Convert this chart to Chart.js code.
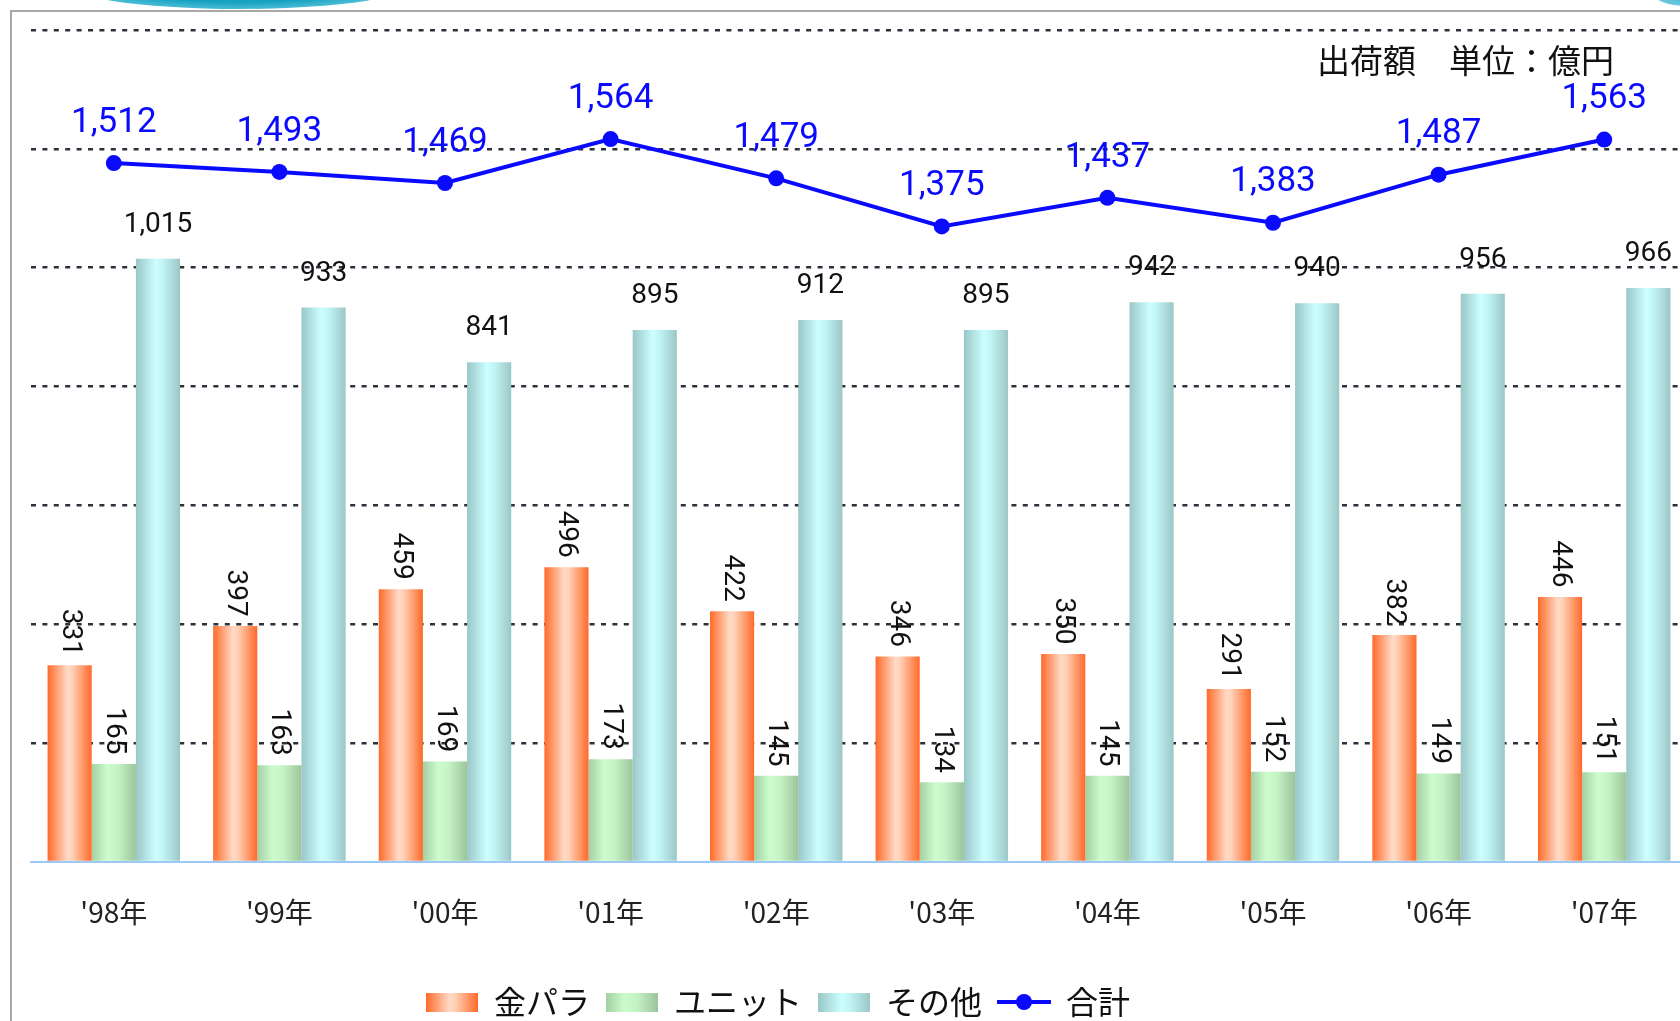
<!DOCTYPE html>
<html>
<head>
<meta charset="utf-8">
<script src="https://cdn.jsdelivr.net/npm/chart.js@4.4.1/dist/chart.umd.min.js"></script>
<style>
  html, body { margin: 0; padding: 0; background: #fff; overflow: hidden; width: 1680px; height: 1021px; }
  #frame { position: absolute; left: 10px; top: 10px; width: 1700px; height: 1100px;
           border-left: 2px solid #a8a8a8; border-top: 2px solid #a8a8a8; }
  #deco1 { position: absolute; left: 58px; top: -48px; width: 362px; height: 57px; border-radius: 50%;
           background: radial-gradient(ellipse at 50% 45%, #0b8fb0 0%, #15a2c2 55%, #6fcde2 82%, rgba(255,255,255,0) 100%); }
  #deco2 { position: absolute; left: 1652px; top: -22px; width: 70px; height: 28px; border-radius: 50%;
           background: radial-gradient(ellipse at 50% 40%, #1aa6c4 0%, #6cc9dd 70%, rgba(255,255,255,0) 100%); }
  #wrap { position: absolute; left: 0; top: 0; }
</style>
</head>
<body>
<div id="deco1"></div>
<div id="deco2"></div>
<div id="frame"></div>
<div id="wrap"><canvas id="chart" width="1700" height="1028"></canvas></div>
<script>
const years = ["'98年", "'99年", "'00年", "'01年", "'02年", "'03年", "'04年", "'05年", "'06年", "'07年"];
const kinpara = [331, 397, 459, 496, 422, 346, 350, 291, 382, 446];
const unit = [165, 163, 169, 173, 145, 134, 145, 152, 149, 151];
const other = [1015, 933, 841, 895, 912, 895, 942, 940, 956, 966];
const total = [1512, 1493, 1469, 1564, 1479, 1375, 1437, 1383, 1487, 1563];

const seriesNames = ['金パラ', 'ユニット', 'その他', '合計'];
const unitTitle = '出荷額　単位：億円';

const lineBlue = '#0a0aff';
const catPct = 0.8;

// gradient stops for each bar series (left edge -> right edge)
const stopsKinpara = [[0, '#ff6a2a'], [0.45, '#ffdac6'], [0.55, '#ffd2b8'], [1, '#ff6a2a']];
const stopsUnit = [[0, '#a4cfa4'], [0.35, '#ccfccc'], [0.6, '#c4f2c4'], [1, '#9cc49c']];
const stopsOther = [[0, '#9ac6c6'], [0.45, '#ccffff'], [0.6, '#c2f6f6'], [1, '#9cc6c6']];

function barFill(stops) {
    return (ctx) => {
        const chart = ctx.chart;
        const xs = chart.scales.x;
        if (!xs || ctx.dataIndex === undefined) return stops[1][1];
        const catW = xs.width / years.length;
        const groupW = catW * catPct;
        const barW = groupW / 3;
        const left = xs.getPixelForValue(ctx.dataIndex) - groupW / 2 + ctx.datasetIndex * barW;
        if (!isFinite(left) || !isFinite(barW) || barW <= 0) return stops[1][1];
        const g = chart.ctx.createLinearGradient(left, 0, left + barW, 0);
        stops.forEach(s => g.addColorStop(s[0], s[1]));
        return g;
    };
}

function boxIcon(stops) {
    const c = document.createElement('canvas');
    c.width = 52; c.height = 19;
    const x = c.getContext('2d');
    const g = x.createLinearGradient(0, 0, 52, 0);
    stops.forEach(s => g.addColorStop(s[0], s[1]));
    x.fillStyle = g;
    x.fillRect(0, 0, 52, 19);
    return c;
}

function lineIcon() {
    const c = document.createElement('canvas');
    c.width = 54; c.height = 20;
    const x = c.getContext('2d');
    x.strokeStyle = lineBlue;
    x.lineWidth = 4;
    x.beginPath(); x.moveTo(0, 10); x.lineTo(54, 10); x.stroke();
    x.fillStyle = lineBlue;
    x.beginPath(); x.arc(27, 10, 8, 0, Math.PI * 2); x.fill();
    return c;
}

const legendIcons = [boxIcon(stopsKinpara), boxIcon(stopsUnit), boxIcon(stopsOther), lineIcon()];

const valueLabels = {
    id: 'valueLabels',
    afterDatasetsDraw(chart) {
        const ctx = chart.ctx;
        ctx.save();
        chart.data.datasets.forEach((ds, di) => {
            const meta = chart.getDatasetMeta(di);
            meta.data.forEach((el, i) => {
                const txt = ds.data[i].toLocaleString('en-US');
                ctx.textAlign = 'center';
                ctx.textBaseline = 'middle';
                if (ds.type === 'line') {
                    ctx.fillStyle = lineBlue;
                    ctx.font = '35px Roboto';
                    ctx.fillText(txt, el.x, el.y - 40);
                } else if (di < 2) {
                    ctx.fillStyle = '#111';
                    ctx.font = '28px Roboto';
                    ctx.save();
                    ctx.translate(el.x, el.y - 33);
                    ctx.rotate(Math.PI / 2);
                    ctx.fillText(txt, 0, 0);
                    ctx.restore();
                } else {
                    ctx.fillStyle = '#111';
                    ctx.font = '28px Roboto';
                    ctx.fillText(txt, el.x, el.y - 34);
                }
            });
        });
        // unit caption in the top right of the plot
        ctx.fillStyle = '#111';
        ctx.font = '33px "Noto Sans CJK JP"';
        ctx.textAlign = 'right';
        ctx.textBaseline = 'middle';
        ctx.fillText(unitTitle, 1614, 60);
        ctx.restore();
    }
};

const legendShift = {
    id: 'legendShift',
    afterLayout(chart) {
        chart.legend.left = 410;
    }
};

new Chart(document.getElementById('chart'), {
    data: {
        labels: years,
        datasets: [
            { type: 'bar', label: seriesNames[0], data: kinpara, backgroundColor: barFill(stopsKinpara), yAxisID: 'y' },
            { type: 'bar', label: seriesNames[1], data: unit, backgroundColor: barFill(stopsUnit), yAxisID: 'y' },
            { type: 'bar', label: seriesNames[2], data: other, backgroundColor: barFill(stopsOther), yAxisID: 'y' },
            {
                type: 'line', label: seriesNames[3], data: total, yAxisID: 'y2',
                borderColor: lineBlue, backgroundColor: lineBlue, borderWidth: 4,
                pointRadius: 8, pointBackgroundColor: lineBlue, pointBorderWidth: 0, tension: 0
            }
        ]
    },
    options: {
        responsive: false,
        devicePixelRatio: 1,
        animation: false,
        layout: { padding: { left: 31, right: 13, top: 30, bottom: 0 } },
        datasets: { bar: { categoryPercentage: catPct, barPercentage: 1.0, borderWidth: 0 } },
        scales: {
            x: {
                grid: { display: true, color: 'transparent', drawTicks: false },
                border: { display: true, color: '#9cc8f4', width: 2 },
                ticks: { color: '#222', font: { family: '"Noto Sans CJK JP"', size: 28 }, padding: 34, maxRotation: 0, autoSkip: false },
                afterFit(s) { s.height = 108; }
            },
            y: {
                min: 0, max: 1400,
                ticks: { display: false, stepSize: 200 },
                grid: {
                    drawTicks: false, lineWidth: 2.5,
                    color: (c) => c.tick && c.tick.value === 0 ? 'transparent' : '#2c323c'
                },
                border: { display: false, dash: [5, 6.4] }
            },
            y2: { display: false, min: 0, max: 1800 }
        },
        plugins: {
            tooltip: { enabled: false },
            legend: {
                position: 'bottom',
                align: 'start',
                labels: {
                    usePointStyle: true,
                    pointStyleWidth: 52,
                    padding: 16,
                    color: '#111',
                    font: { family: '"Noto Sans CJK JP"', size: 32 },
                    generateLabels(chart) {
                        const items = Chart.defaults.plugins.legend.labels.generateLabels(chart);
                        items.forEach((it, i) => { it.pointStyle = legendIcons[i]; });
                        return items;
                    }
                }
            }
        }
    },
    plugins: [valueLabels, legendShift]
});
</script>
</body>
</html>
